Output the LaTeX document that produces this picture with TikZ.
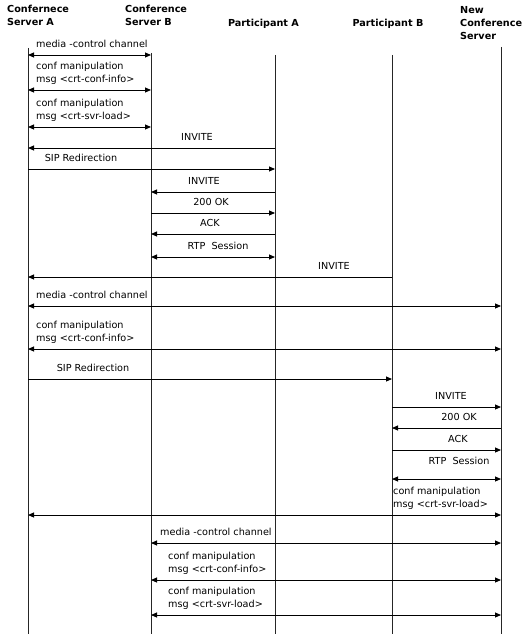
\documentclass[tikz,border=0pt]{standalone}
\usepackage{fontspec}
\setmainfont{DejaVu Sans}
\usetikzlibrary{arrows.meta}
\begin{document}
\begin{tikzpicture}[x=1bp,y=-1bp,
  life/.style={line width=0.8bp,draw=black!85},
  tip/.tip={Triangle[length=6bp,width=5bp]},
  msg/.style={line width=0.9bp,-tip},
  dmsg/.style={line width=0.9bp,tip-tip},
  lbl/.style={inner sep=0pt,font=\fontsize{9.7}{13}\selectfont,text height=7.3bp,text depth=2.2bp},
  lbltwo/.style={inner sep=0pt,font=\fontsize{9.7}{13}\selectfont,align=left},
  head/.style={inner sep=0pt,font=\fontsize{9.7}{13}\selectfont\bfseries,align=left}]
\useasboundingbox (0,0) rectangle (523,634);
% headers
\node[head,anchor=north west] (hA) at (7,4.9) {Confernece\\Server A};
\node[head,anchor=north west] (hB) at (125,4.9) {Conference\\Server B};
\node[head,anchor=center,text height=7.3bp,text depth=2.2bp] (hPA) at (263.5,24) {Participant A};
\node[head,anchor=center,text height=7.3bp,text depth=2.2bp] (hPB) at (388,24) {Participant B};
\node[head,anchor=north west] (hN) at (460,6.2) {New\\Conference\\Server};
% lifelines
\coordinate (A) at (28,48);  \coordinate (Ae) at (28,634);
\coordinate (B) at (151,53); \coordinate (Be) at (151,634);
\coordinate (P) at (275,55); \coordinate (Pe) at (275,634);
\coordinate (Q) at (392,55); \coordinate (Qe) at (392,634);
\coordinate (N) at (501,47); \coordinate (Ne) at (501,634);
\draw[life] (A) -- (Ae);
\draw[life] (B) -- (Be);
\draw[life] (P) -- (Pe);
\draw[life] (Q) -- (Qe);
\draw[life] (N) -- (Ne);
% message levels
\coordinate (m1) at (0,55);
\coordinate (m2) at (0,90);
\coordinate (m3) at (0,127);
\coordinate (m4) at (0,148);
\coordinate (m5) at (0,169);
\coordinate (m6) at (0,192);
\coordinate (m7) at (0,213);
\coordinate (m8) at (0,234);
\coordinate (m9) at (0,257);
\coordinate (m10) at (0,277);
\coordinate (m11) at (0,306);
\coordinate (m12) at (0,349);
\coordinate (m13) at (0,379);
\coordinate (m14) at (0,407);
\coordinate (m15) at (0,428);
\coordinate (m16) at (0,450);
\coordinate (m17) at (0,479);
\coordinate (m18) at (0,515);
\coordinate (m19) at (0,543);
\coordinate (m20) at (0,580);
\coordinate (m21) at (0,615);
% messages
\draw[dmsg] (A|-m1) -- (B|-m1);
\node[lbl,anchor=west] (l1) at (36,44.5) {media -control channel};
\draw[dmsg] (A|-m2) -- (B|-m2);
\node[lbltwo,anchor=west] (l2) at (36,73) {conf manipulation\\msg <crt-conf-info>};
\draw[dmsg] (A|-m3) -- (B|-m3);
\node[lbltwo,anchor=west] (l3) at (36,110) {conf manipulation\\msg <crt-svr-load>};
\draw[msg] (P|-m4) -- (A|-m4);
\node[lbl] (l4) at (197,137.5) {INVITE};
\draw[msg] (A|-m5) -- (P|-m5);
\node[lbl] (l5) at (81,158.5) {SIP Redirection};
\draw[msg] (P|-m6) -- (B|-m6);
\node[lbl] (l6) at (204,181.5) {INVITE};
\draw[msg] (B|-m7) -- (P|-m7);
\node[lbl] (l7) at (211,202.5) {200 OK};
\draw[msg] (P|-m8) -- (B|-m8);
\node[lbl] (l8) at (210,223.5) {ACK};
\draw[dmsg] (B|-m9) -- (P|-m9);
\node[lbl] (l9) at (218,246.5) {RTP\ \ Session};
\draw[msg] (Q|-m10) -- (A|-m10);
\node[lbl] (l10) at (334,266.5) {INVITE};
\draw[dmsg] (A|-m11) -- (N|-m11);
\node[lbl,anchor=west] (l11) at (36,295.5) {media -control channel};
\draw[dmsg] (A|-m12) -- (N|-m12);
\node[lbltwo,anchor=west] (l12) at (36,332) {conf manipulation\\msg <crt-conf-info>};
\draw[msg] (A|-m13) -- (Q|-m13);
\node[lbl] (l13) at (93,368.5) {SIP Redirection};
\draw[msg] (Q|-m14) -- (N|-m14);
\node[lbl] (l14) at (451,396.5) {INVITE};
\draw[msg] (N|-m15) -- (Q|-m15);
\node[lbl] (l15) at (459,417.5) {200 OK};
\draw[msg] (Q|-m16) -- (N|-m16);
\node[lbl] (l16) at (458,439.5) {ACK};
\draw[dmsg] (Q|-m17) -- (N|-m17);
\node[lbl] (l17) at (459,462) {RTP\ \ Session};
\draw[dmsg] (A|-m18) -- (N|-m18);
\node[lbltwo,anchor=west] (l18) at (393,498) {conf manipulation\\msg <crt-svr-load>};
\draw[dmsg] (B|-m19) -- (N|-m19);
\node[lbl,anchor=west] (l19) at (160,533) {media -control channel};
\draw[dmsg] (B|-m20) -- (N|-m20);
\node[lbltwo,anchor=west] (l20) at (168,563) {conf manipulation\\msg <crt-conf-info>};
\draw[dmsg] (B|-m21) -- (N|-m21);
\node[lbltwo,anchor=west] (l21) at (168,598) {conf manipulation\\msg <crt-svr-load>};
\end{tikzpicture}
\end{document}
